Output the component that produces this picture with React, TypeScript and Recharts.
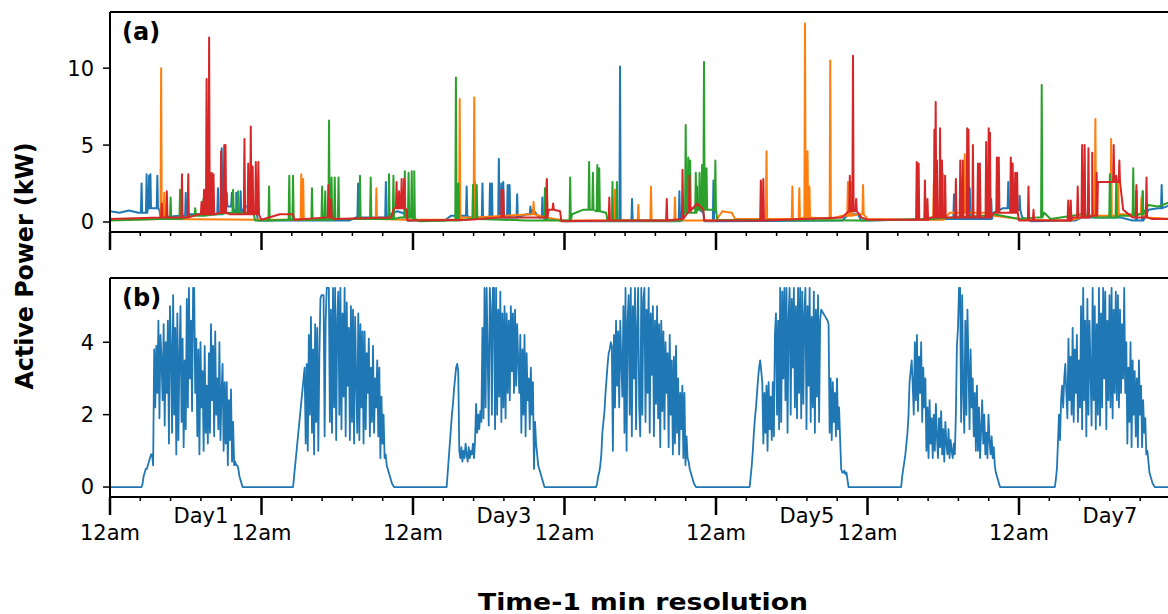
import React from "react";
import { LineChart, Line, XAxis, YAxis } from "recharts";

type Pt = [number, number];

// x positions are hours since the first midnight (7 days)
const dayTicks = [0, 24, 48, 72, 96, 120, 144];
const minorTicks = [
  4.8, 9.6, 14.4, 19.2, 28.8, 33.6, 38.4, 43.2, 52.8, 57.6, 62.4, 67.2, 76.8, 81.6,
  86.4, 91.2, 100.8, 105.6, 110.4, 115.2, 124.8, 129.6, 134.4, 139.2, 148.8, 153.6,
  158.4, 163.2,
];
const dayLabelTicks = [14.4, 62.4, 110.4, 158.4];
const dayLabelNames = ["Day1", "Day3", "Day5", "Day7"];
const powerTicksA = [0, 5, 10];
const powerTicksB = [0, 2, 4];

// (a) household loads: slow baseline + short switching spikes
const blueBase: Pt[] = [
  [0, 0.7], [1.5, 0.6], [3, 0.75], [4.5, 0.6], [6, 0.9], [7.8, 0.8], [8, 0.3], [11, 0.4],
  [12.5, 0.5], [16.5, 0.5], [18.5, 1.0], [20, 0.6], [21.4, 1.0], [23.2, 0.9], [23.4, 0.1],
  [38, 0.1], [39, 0.3], [44, 0.4], [45.5, 0.7], [47, 0.5], [47.2, 0.1], [53, 0.1], [54, 0.4],
  [57, 0.3], [66, 0.5], [67, 0.8], [68, 0.3], [70, 0.2], [72, 0.05], [89.5, 0.05], [90.5, 0.6],
  [92, 0.9], [94, 0.6], [94.2, 0.05], [116, 0.1], [117, 0.5], [118.5, 0.5], [119, 0.1],
  [133, 0.2], [140, 0.6], [141.5, 0.9], [143, 0.8], [144.5, 0.3], [146, 0.05], [153, 0.1],
  [154, 0.3], [160, 0.3], [162, 0.1], [164.5, 0.8], [166, 0.9], [168, 1.1],
];
const blueSpikes: Pt[] = [
  [5.0, 2.5], [5.8, 3.1], [6.2, 3.0], [6.4, 3.1], [7.5, 3.0], [12.0, 1.9], [17.1, 2.2],
  [17.7, 4.8], [18.5, 1.9], [19.3, 1.9], [20.0, 1.9], [20.7, 2.0], [22.2, 1.2], [39.3, 2.5],
  [43.7, 2.6], [56.5, 2.3], [57.8, 2.6], [59.0, 2.5], [60.2, 2.5], [60.5, 2.5], [61.6, 4.1],
  [62.0, 2.5], [62.3, 2.6], [63.0, 2.4], [63.3, 2.4], [64.5, 1.8], [66.6, 1.0], [68.5, 1.6],
  [80.8, 10.1], [82.7, 1.5], [90.2, 2.0], [93.0, 2.3], [95.6, 2.7], [133.7, 1.8],
  [136.2, 2.2], [139.6, 1.5], [142.3, 2.6], [144.1, 1.7], [154.4, 2.0], [155.0, 2.5],
  [162.6, 2.0], [163.6, 2.0], [166.6, 2.4],
];

const orangeBase: Pt[] = [
  [0, 0.15], [8, 0.2], [24, 0.15], [35, 0.2], [47, 0.15], [56, 0.3], [67, 0.5], [69, 0.3],
  [72, 0.1], [88, 0.1], [96, 0.1], [97, 0.7], [98.5, 0.6], [99, 0.2], [110, 0.3], [114, 0.2],
  [116, 0.4], [117.5, 1.0], [118.5, 0.5], [120, 0.2], [128, 0.15], [133, 0.6], [140, 0.4],
  [145, 0.15], [152, 0.1], [155, 0.4], [160, 0.5], [164, 0.3], [168, 0.2],
];
const orangeSpikes: Pt[] = [
  [8.1, 10.0], [8.6, 1.9], [30.3, 3.1], [30.6, 2.8], [42.2, 2.2], [55.4, 8.0], [57.7, 8.1],
  [67.1, 1.3], [80.0, 2.1], [83.7, 1.1], [85.7, 2.3], [89.5, 1.6], [103.2, 2.6], [104.0, 4.6],
  [108.1, 2.3], [109.2, 2.2], [110.1, 12.9], [110.5, 4.6], [110.8, 2.3], [114.1, 10.5],
  [116.9, 2.6], [117.4, 2.6], [119.3, 2.4], [130.5, 2.5], [132.0, 3.1], [135.4, 4.4],
  [138.9, 2.5], [156.1, 6.7], [158.6, 5.4], [159.7, 2.5], [163.4, 1.6],
];

const greenBase: Pt[] = [
  [0, 0.1], [8, 0.2], [13, 0.4], [19, 0.6], [22.7, 0.6], [23, 0.1], [28, 0.15], [36, 0.2],
  [46, 0.3], [48.2, 0.2], [49, 0.05], [54, 0.1], [57, 0.2], [66, 0.1], [73.2, 0.5], [75, 0.8],
  [77, 0.7], [78.6, 0.6], [78.8, 0.1], [90.6, 0.1], [91, 0.6], [93, 0.8], [96, 0.6],
  [96.2, 0.15], [120, 0.1], [130, 0.2], [138, 0.4], [140, 0.5], [144, 0.2], [147, 0.3],
  [148, 0.6], [149, 0.2], [154, 0.5], [156, 0.3], [160, 0.4], [163, 0.5], [164.5, 1.1],
  [166, 1.0], [168, 1.3],
];
const greenSpikes: Pt[] = [
  [9.6, 1.6], [11.1, 2.1], [13.5, 0.9], [14.8, 1.5], [19.5, 2.1], [20.3, 2.0], [25.2, 2.3],
  [28.4, 3.0], [29.0, 3.0], [32.0, 2.2], [33.6, 2.3], [34.1, 2.0], [34.7, 6.6], [35.1, 2.9],
  [35.6, 2.9], [36.2, 2.9], [39.6, 3.0], [41.3, 2.9], [44.2, 3.1], [44.9, 3.0], [46.7, 3.3],
  [47.3, 3.2], [47.8, 3.3], [48.2, 3.3], [54.8, 9.4], [55.2, 2.5], [57.5, 2.4], [58.1, 2.4],
  [68.9, 2.2], [69.2, 2.7], [72.9, 2.9], [75.9, 3.9], [76.5, 3.2], [77.2, 3.7], [77.5, 3.5],
  [79.6, 2.6], [80.3, 2.6], [91.2, 6.3], [91.6, 4.2], [91.9, 4.0], [92.8, 3.2], [93.4, 3.2],
  [93.8, 3.7], [94.1, 10.4], [94.5, 3.5], [95.9, 4.0], [139.1, 2.2], [147.6, 8.9],
  [158.4, 3.1], [159.4, 2.5], [162.1, 3.5], [162.6, 2.0], [163.6, 2.0],
];

const redBase: Pt[] = [
  [0, 0.2], [8, 0.3], [14, 0.5], [16.5, 0.6], [19, 0.5], [23.8, 0.3], [24, 0.15], [26.9, 0.5],
  [29, 0.5], [29.2, 0.15], [34.5, 0.3], [35.5, 0.2], [44.5, 0.3], [45, 0.9], [47, 0.8],
  [47.1, 0.1], [57, 0.15], [62, 0.3], [67, 0.3], [69.5, 0.8], [71.3, 0.7], [71.5, 0.05],
  [79, 0.1], [90.6, 0.2], [90.8, 0.7], [93, 1.2], [94, 0.8], [94.1, 0.1], [116, 0.3],
  [117, 0.7], [118.5, 0.6], [119, 0.3], [120, 0.15], [127.7, 0.15], [130, 0.3], [135, 0.3],
  [140, 0.6], [143.7, 0.6], [144, 0.1], [151, 0.1], [152.5, 0.3], [155.6, 0.4], [156.5, 2.6],
  [158.5, 2.6], [160.5, 0.8], [162, 0.3], [165, 0.2], [168, 0.2],
];
const redSpikes: Pt[] = [
  [8.2, 1.2], [9.0, 2.0], [11.4, 3.1], [12.4, 3.1], [14.5, 1.3], [14.9, 2.1], [15.3, 9.3],
  [15.7, 12.0], [16.1, 3.2], [16.4, 3.1], [17.6, 4.6], [18.1, 5.0], [18.3, 5.0], [21.3, 5.4],
  [21.9, 3.8], [22.3, 6.2], [22.6, 3.6], [23.1, 3.9], [23.5, 3.9], [34.6, 2.4], [35.0, 1.5],
  [45.4, 2.6], [45.8, 2.0], [46.2, 2.8], [46.6, 2.8], [62.0, 2.1], [62.3, 2.1], [69.2, 2.8],
  [70.2, 1.2], [79.1, 1.6], [88.2, 1.5], [90.7, 3.4], [91.8, 3.0], [103.1, 2.7], [103.5, 2.8],
  [117.2, 3.0], [117.7, 10.8], [118.2, 1.5], [127.8, 3.9], [128.1, 3.8], [129.1, 2.7],
  [129.5, 1.5], [130.6, 6.0], [130.8, 7.8], [131.0, 4.0], [131.5, 6.1], [131.8, 4.0],
  [132.3, 3.0], [134.0, 2.8], [134.7, 4.0], [135.1, 4.0], [135.8, 6.1], [136.0, 6.0],
  [136.7, 5.0], [137.5, 3.8], [137.8, 3.8], [138.8, 5.2], [139.2, 6.1], [139.4, 5.8],
  [140.5, 4.2], [140.8, 4.2], [142.7, 4.2], [143.0, 3.8], [143.4, 3.2], [143.7, 3.2],
  [145.5, 2.3], [146.3, 0.8], [151.8, 1.4], [152.2, 1.4], [153.3, 2.3], [154.0, 5.0],
  [154.4, 5.0], [155.0, 4.8], [155.6, 4.5], [156.3, 3.2], [159.0, 5.0], [159.4, 3.0],
  [159.9, 4.0], [162.6, 2.4], [164.2, 2.9],
];

// (b) PV output, one value per 10 min from first light of each day
const pvStartSlot = [30, 30, 32, 30, 32, 32, 34];
const pvDay1 = [
  0, 0.1, 0.3, 0.4, 0.5, 0.5, 0.6, 0.7, 0.8, 0.9, 0.9, 0.6,
  3.8, 2.2, 3.9, 2.6, 4.6, 1.9, 4.2, 3.5, 2.4, 4.5, 1.7, 4.0,
  2.6, 4.6, 1.2, 5.0, 3.8, 1.5, 5.3, 2.0, 4.4, 0.9, 4.8, 1.3, 3.6, 5.0, 1.8, 4.1, 1.1, 3.5,
  1.6, 5.2, 2.2, 5.5, 3.0, 4.6, 2.1, 5.5, 5.5, 2.6,
  4.1, 1.4, 3.8, 0.9, 4.0, 2.2, 3.2, 1.0, 3.9, 1.5, 2.8, 1.2, 3.7,
  1.5, 4.5, 2.4, 3.9, 1.4, 4.3, 2.0, 3.0, 1.6, 4.0, 1.3, 2.6, 3.4, 1.0, 2.9, 1.2,
  2.9, 0.6, 2.4, 1.3, 2.7, 0.7, 1.8, 0.6,
  0.7, 0.6, 0.6, 0.5, 0.3, 0.2, 0.1, 0,
];
const pvDay2 = [
  0, 0.3, 0.6, 0.9, 1.2, 1.5, 1.8, 2.1, 2.4, 2.7, 3.0, 3.3,
  1.2, 3.4, 1.0, 4.2, 2.0, 4.7, 1.5, 3.8, 0.9, 4.5, 1.8, 4.4, 1.0, 3.6,
  5.2, 5.3, 5.3, 5.3, 1.4, 4.6, 5.5, 5.5, 5.5, 1.8, 4.9, 1.5,
  5.5, 2.2, 5.5, 1.3, 4.6, 5.4, 2.0, 5.5, 1.6, 4.8, 2.5, 5.5, 1.4, 5.1, 2.8, 4.4, 1.3, 5.0,
  1.8, 4.9, 1.2, 4.7, 3.0, 1.5, 4.8, 1.3, 4.5, 2.2, 4.3, 1.2,
  4.3, 1.6, 3.7, 2.6, 4.1, 1.4, 3.3, 1.8, 3.9, 1.5, 3.0, 2.2, 3.5, 1.4,
  3.3, 0.8, 2.5, 1.2, 2.0, 0.8,
  0.9, 0.6, 0.5, 0.4, 0.3, 0.2, 0.1, 0.05, 0,
];
const pvDay3 = [
  0, 0.4, 0.8, 1.2, 1.6, 2.0, 2.3, 2.7, 3.0, 3.3, 3.4, 3.2,
  1.0, 0.8, 1.1, 0.7, 1.0, 0.8, 1.2, 0.9, 0.7, 1.1, 0.8, 1.0, 0.9, 1.2, 0.8, 1.3,
  2.3, 1.5, 2.0, 1.6, 2.1, 1.8,
  4.4, 1.9, 5.5, 2.2, 5.5, 3.6, 1.7, 5.5, 4.9, 2.0, 5.5, 5.5,
  1.6, 5.5, 2.0, 4.9, 2.5, 5.4, 1.8, 4.8, 2.2, 5.0,
  1.9, 4.8, 2.6, 4.6, 2.4, 5.0, 3.2, 4.8, 2.6, 4.9,
  2.8, 4.5, 3.5, 2.6, 4.2, 1.5, 3.8, 2.0,
  4.2, 1.4, 3.7, 2.4, 3.0, 1.6, 3.3, 2.0,
  2.9, 0.5, 1.8, 1.2, 0.9, 0.6, 0.5, 0.4, 0.3, 0.2, 0.1, 0,
];
const pvDay4 = [
  0, 0.1, 0.3, 0.4, 0.6, 0.9, 1.5, 1.8, 2.1, 2.6, 3.0, 3.4, 3.7, 3.8, 4.0, 3.9,
  1.0, 4.2, 2.2, 4.6, 2.8, 4.3, 2.2, 4.6, 3.4, 2.5,
  5.0, 1.5, 5.5, 1.0, 4.6, 5.3, 2.0, 5.5, 1.4, 5.0, 3.0, 5.5, 1.6, 4.4, 5.5, 2.2,
  1.4, 5.5, 2.0, 5.2, 5.5, 1.8, 4.9, 2.6, 5.5, 1.5, 4.8, 3.1, 5.0, 1.4, 4.6, 2.3, 5.0, 1.9, 4.5,
  1.1, 4.6, 2.1, 4.3, 1.6, 4.0, 2.6, 3.7, 1.1, 4.2, 2.0, 3.5,
  0.9, 3.6, 1.2, 3.9, 1.5, 3.0, 0.9, 2.6, 1.6, 2.8, 0.8, 2.6,
  0.6, 1.4, 0.8, 0.7, 0.5, 0.4, 0.3, 0.2, 0.1, 0.05, 0,
];
const pvDay5 = [
  0, 0.3, 0.6, 1.0, 1.5, 1.9, 2.2, 2.6, 3.0, 3.3, 3.5, 3.2,
  2.9, 1.2, 2.6, 1.5, 2.8, 1.0, 2.9, 1.6, 2.5, 1.3, 2.9, 1.4,
  4.2, 4.8, 2.0, 4.6, 1.6,
  5.5, 1.8, 5.4, 3.0, 5.5, 2.4, 5.5, 1.5, 4.7, 5.5, 2.0, 5.2, 3.3, 5.5, 2.2, 5.0, 1.9, 5.5, 2.6,
  5.5, 1.9, 5.4, 2.3, 4.8, 5.5, 1.6, 5.0, 2.8, 5.5, 1.8, 4.7, 2.2, 5.4, 1.5, 4.9, 2.5, 5.3, 1.8, 4.6,
  4.9, 4.85, 4.8, 4.75, 4.7, 4.65, 4.6, 4.5,
  1.5, 3.0, 1.3, 2.9, 1.8, 2.6, 1.4, 3.0, 1.6, 2.2, 1.3,
  0.5, 0.4, 0.4, 0.45, 0.35, 0.4, 0.2, 0,
];
const pvDay6 = [
  0, 0.3, 0.5, 0.7, 0.9, 1.2, 1.5, 2.0, 2.9, 3.2, 3.5, 2.8,
  2.0, 4.0, 2.4, 4.2, 2.1, 3.6, 2.6, 4.0, 1.8, 3.3, 2.2, 3.0,
  1.0, 2.2, 0.8, 2.4, 1.2, 1.9, 0.8, 2.0, 1.0, 2.3, 1.4, 0.8, 1.9, 1.1, 2.1, 0.9, 1.6, 0.7,
  1.8, 1.2, 0.9, 1.6, 0.8, 1.3, 1.0, 0.8, 1.2, 0.9, 2.0,
  3.9, 4.4, 5.5, 5.5, 1.8, 5.3, 2.6, 1.5, 4.6, 2.0, 4.9, 3.4, 1.6, 3.8, 2.2, 3.0, 1.4, 2.6, 1.0, 2.8,
  1.0, 2.2, 0.8, 1.6, 2.4, 1.2, 2.0, 0.9, 1.5, 0.8, 2.0, 1.3, 0.9, 1.4, 0.8, 1.1, 0.6, 0.4,
  0.3, 0.2, 0.1, 0,
];
const pvDay7 = [
  0, 0.2, 0.5, 1.2, 2.0, 1.3, 2.4, 2.8, 2.2, 3.0, 3.4, 2.6,
  1.9, 4.1, 2.4, 3.6, 2.0, 4.4, 1.8, 3.8, 2.6, 4.2, 1.8, 3.5, 2.2,
  5.0, 1.6, 5.5, 2.4, 4.6, 1.4, 5.2, 2.0, 4.6, 3.2, 1.7, 5.5, 2.4, 5.0, 1.6, 4.5,
  2.0, 5.5, 1.7, 4.8, 2.2, 5.5, 3.0, 5.4, 1.6, 4.6, 2.4, 5.3, 2.2, 5.5, 1.9, 4.9, 2.6, 5.4, 2.4,
  5.3, 2.2, 4.9, 2.6, 4.5, 3.0, 5.5, 2.6, 4.0,
  1.2, 3.3, 1.8, 4.0, 1.1, 3.5, 2.0, 3.2, 1.4, 3.0,
  1.1, 3.5, 2.0, 2.8, 1.1, 2.4, 1.5, 1.9, 0.9, 1.0, 0.7, 0.4,
  0.3, 0.2, 0.1, 0.05, 0,
];
const pvDays = [pvDay1, pvDay2, pvDay3, pvDay4, pvDay5, pvDay6, pvDay7];

function withSpikes(base: Pt[], spikes: Pt[]) {
  const pts = base.map(([h, v]) => ({ h, v }));
  for (const [h, peak] of spikes) {
    let level = base[0][1];
    for (const [bh, bv] of base) if (bh <= h) level = bv;
    pts.push({ h: h - 0.1, v: level }, { h, v: peak }, { h: h + 0.1, v: level });
  }
  return pts.sort((a, b) => a.h - b.h);
}

function pvSeries() {
  const pts = [{ h: 0, v: 0 }];
  pvDays.forEach((vals, d) =>
    vals.forEach((v, i) => pts.push({ h: d * 24 + (pvStartSlot[d] + i) / 6, v }))
  );
  pts.push({ h: 168, v: 0 });
  return pts;
}

const loadSeries = [
  { color: "#1f77b4", data: withSpikes(blueBase, blueSpikes) },
  { color: "#ff7f0e", data: withSpikes(orangeBase, orangeSpikes) },
  { color: "#2ca02c", data: withSpikes(greenBase, greenSpikes) },
  { color: "#d62728", data: withSpikes(redBase, redSpikes) },
];
const pvData = pvSeries();
const timeTicks = [...dayTicks, ...minorTicks].sort((a, b) => a - b);

const black = "#000";
const spine = { stroke: black, strokeWidth: 2 };
const tickFont = { fill: black, fontSize: 21 };

// long tick at each midnight, short tick every 4.8 h, labels only on the lower panel
function TimeTick(props: any) {
  const { x, y, payload, withLabels } = props;
  const t = payload.value;
  const major = dayTicks.includes(t);
  const k = dayLabelTicks.indexOf(t);
  const label = !withLabels ? "" : major ? "12am" : k >= 0 ? dayLabelNames[k] : "";
  return (
    <g>
      <line
        x1={x}
        x2={x}
        y1={y}
        y2={y + (major ? 18 : 4)}
        stroke={black}
        strokeWidth={major ? 2.5 : 1.5}
      />
      {label && (
        <text x={x} y={y + (major ? 43 : 26)} textAnchor="middle" fontSize={21} fill={black}>
          {label}
        </text>
      )}
    </g>
  );
}

function timeAxes(withLabels: boolean) {
  return [
    <XAxis
      key="top"
      xAxisId="top"
      orientation="top"
      type="number"
      domain={[0, 168]}
      allowDataOverflow
      height={0.01}
      ticks={[0]}
      tick={false}
      tickLine={false}
      axisLine={spine}
    />,
    <XAxis
      key="time"
      xAxisId="time"
      dataKey="h"
      type="number"
      domain={[0, 168]}
      allowDataOverflow
      height={0.01}
      ticks={timeTicks}
      interval={0}
      tickSize={0}
      tickMargin={0}
      tickLine={false}
      axisLine={spine}
      tick={(p: any) => <TimeTick {...p} withLabels={withLabels} />}
    />,
  ];
}

export default function App() {
  return (
    <div
      style={{
        position: "absolute",
        left: 0,
        top: 0,
        width: 1168,
        height: 614,
        overflow: "hidden",
        background: "#fff",
        fontFamily: "'DejaVu Sans', sans-serif",
      }}
    >
      <div style={{ position: "absolute", left: 0, top: 0 }}>
        <LineChart width={1180} height={260} margin={{ top: 12, right: 9.5, bottom: 28, left: 0 }}>
          {timeAxes(false)}
          <YAxis
            type="number"
            domain={[-0.65, 13.65]}
            allowDataOverflow
            ticks={powerTicksA}
            interval={0}
            width={110}
            tickSize={7}
            tickMargin={9}
            tick={tickFont}
            tickLine={{ stroke: black, strokeWidth: 1.5 }}
            axisLine={spine}
          />
          {loadSeries.map((s) => (
            <Line
              key={s.color}
              xAxisId="time"
              data={s.data}
              dataKey="v"
              type="linear"
              stroke={s.color}
              strokeWidth={2}
              strokeLinejoin="round"
              dot={false}
              isAnimationActive={false}
            />
          ))}
        </LineChart>
      </div>
      <div style={{ position: "absolute", left: 0, top: 266 }}>
        <LineChart width={1180} height={290} margin={{ top: 12, right: 9.5, bottom: 59, left: 0 }}>
          {timeAxes(true)}
          <YAxis
            type="number"
            domain={[-0.275, 5.775]}
            allowDataOverflow
            ticks={powerTicksB}
            interval={0}
            width={110}
            tickSize={7}
            tickMargin={9}
            tick={tickFont}
            tickLine={{ stroke: black, strokeWidth: 1.5 }}
            axisLine={spine}
          />
          <Line
            xAxisId="time"
            data={pvData}
            dataKey="v"
            type="linear"
            stroke="#1f77b4"
            strokeWidth={1.8}
            strokeLinejoin="round"
            dot={false}
            isAnimationActive={false}
          />
        </LineChart>
      </div>
      <svg
        width={1168}
        height={614}
        style={{ position: "absolute", left: 0, top: 0, pointerEvents: "none" }}
      >
        <text x={122} y={40} fontSize={24} fontWeight="bold" fill={black}>
          (a)
        </text>
        <text x={122} y={306} fontSize={24} fontWeight="bold" fill={black}>
          (b)
        </text>
        <text
          transform="translate(33,266) rotate(-90)"
          textAnchor="middle"
          fontSize={25}
          fontWeight="bold"
          fill={black}
          textLength={247}
          lengthAdjust="spacingAndGlyphs"
        >
          Active Power (kW)
        </text>
        <text
          x={643}
          y={610}
          textAnchor="middle"
          fontSize={23}
          fontWeight="bold"
          fill={black}
          textLength={330}
          lengthAdjust="spacingAndGlyphs"
        >
          Time-1 min resolution
        </text>
      </svg>
    </div>
  );
}
